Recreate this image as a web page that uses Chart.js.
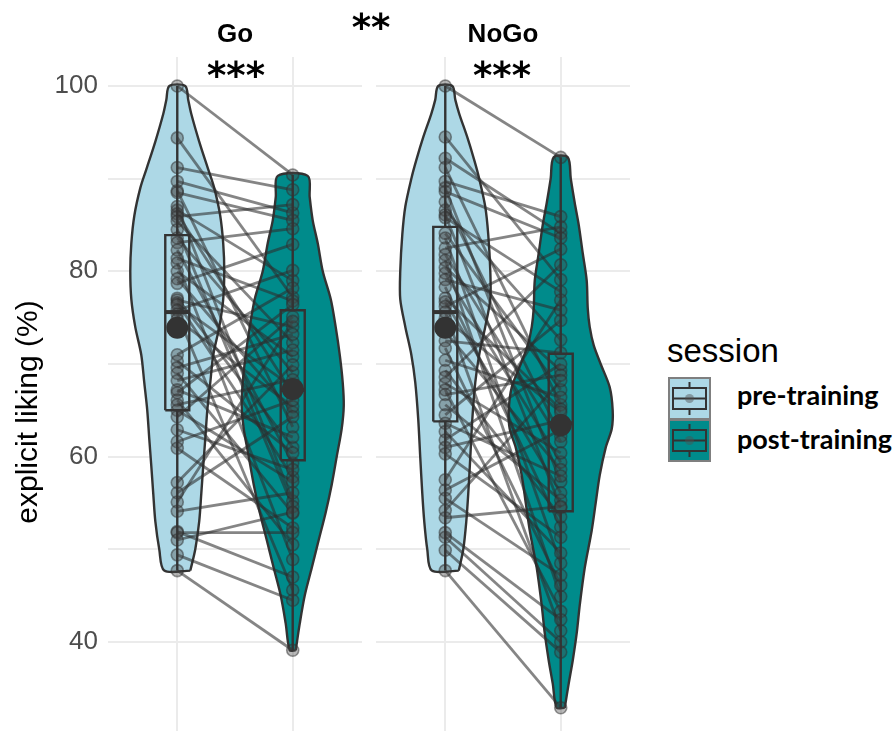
<!DOCTYPE html>
<html><head><meta charset="utf-8">
<script src="https://cdn.jsdelivr.net/npm/chart.js@4.4.1/dist/chart.umd.min.js"></script>
<style>
html,body{margin:0;padding:0;background:#fff;overflow:hidden;}
#wrap{position:relative;width:893px;height:731px;overflow:hidden;background:#fff;}
canvas{position:absolute;top:0;}
.t{position:absolute;white-space:nowrap;line-height:1;}
</style></head><body>
<div id="wrap">
  <canvas id="left" width="370" height="770" style="left:0px"></canvas>
  <canvas id="right" width="270" height="770" style="left:370px"></canvas>
  <canvas id="keys" width="46" height="90" style="left:667px;top:376px"></canvas>
  <div class="t" id="stripGo" style="font-family:'Liberation Sans';font-weight:bold;font-size:26px;left:235px;top:20px;transform:translateX(-50%)"></div>
  <div class="t" id="stripNoGo" style="font-family:'Liberation Sans';font-weight:bold;font-size:26px;left:503px;top:20px;transform:translateX(-50%)"></div>
  <div class="t" id="sigBetween" style="font-family:'DejaVu Sans';font-weight:bold;font-size:37px;left:371px;top:9px;transform:translateX(-50%)"></div>
  <div class="t" id="sigGo" style="font-family:'DejaVu Sans';font-weight:bold;font-size:37px;left:236px;top:57px;transform:translateX(-50%)"></div>
  <div class="t" id="sigNoGo" style="font-family:'DejaVu Sans';font-weight:bold;font-size:37px;left:502px;top:57px;transform:translateX(-50%)"></div>
  <div class="t" id="legTitle" style="font-family:'Liberation Sans';font-size:33px;left:667px;top:334px"></div>
  <div class="t" id="leg0" style="font-family:'Lato';font-weight:bold;font-size:27px;left:737px;top:381px"></div>
  <div class="t" id="leg1" style="font-family:'Lato';font-weight:bold;font-size:27px;left:737px;top:425px"></div>
</div>
<script>
// ---------- data ----------
const facetTitles = ['Go', 'NoGo'];
const sessions = ['pre-training', 'post-training'];
const legendTitle = 'session';
const yTitle = 'explicit liking (%)';
const sigWithin = ['***', '***'];
const sigBetween = '**';
const sessionX = [1, 2];
const yTickValues = [30, 40, 50, 60, 70, 80, 90, 100];
const yTickLabels = ['', '40', '', '60', '', '80', '', '100'];
const yRange = [26.5, 103.13];

// paired participant ratings (same index = same participant)
const goPre = [100, 94.4, 91.2, 89.7, 88.7, 88.5, 87.0, 86.6, 86.2, 85.9, 85.4, 84.5, 83.6, 83.1, 82.3, 81.4, 80.9, 80.0, 79.2, 78.7, 77.1, 76.9, 76.6, 76.4, 75.8, 75.4, 74.8, 71.0, 70.3, 69.6, 69.0, 68.2, 67.2, 66.9, 66.1, 65.6, 65.0, 64.3, 62.9, 61.6, 60.9, 57.2, 56.1, 55.1, 54.1, 51.9, 51.8, 51.0, 49.4, 47.7];
const goPost = [90.4, 77.2, 88.8, 86.3, 63.2, 85.5, 55.2, 79.0, 66.8, 87.2, 72.3, 54.6, 69.1, 84.6, 59.3, 76.8, 48.9, 70.8, 64.8, 82.9, 61.0, 74.0, 57.8, 67.5, 80.1, 45.6, 65.4, 78.2, 60.4, 73.2, 53.9, 71.5, 62.1, 76.4, 50.5, 68.3, 57.3, 75.1, 58.6, 66.1, 52.3, 69.9, 64.3, 74.6, 56.1, 47.0, 51.8, 54.0, 44.5, 39.1];
const noGoPre = [100, 94.5, 92.2, 91.2, 89.7, 89.0, 88.6, 87.5, 86.6, 86.1, 85.8, 84.1, 83.6, 82.5, 81.8, 81.2, 80.4, 79.8, 79.1, 78.3, 77.1, 76.7, 76.2, 75.6, 74.9, 73.5, 72.5, 71.7, 70.4, 69.3, 68.6, 67.9, 67.2, 66.7, 65.6, 64.5, 63.6, 62.7, 61.8, 61.0, 60.3, 57.5, 56.4, 55.5, 54.2, 53.4, 51.8, 51.3, 49.9, 47.7];
const noGoPost = [92.3, 79.1, 84.1, 65.6, 85.9, 57.3, 83.6, 62.2, 72.6, 54.5, 77.8, 67.2, 48.5, 84.8, 61.6, 44.9, 69.3, 59.4, 75.8, 52.4, 65.1, 56.1, 82.4, 41.2, 64.8, 58.6, 71.2, 46.1, 66.4, 53.5, 80.7, 60.4, 43.3, 68.8, 55.3, 74.7, 57.9, 49.6, 70.0, 63.9, 51.3, 76.9, 62.9, 47.2, 68.2, 54.6, 42.4, 40.0, 38.9, 32.9];

const goPreBox = [47.7, 65.0, 75.6, 83.9, 100];
const goPostBox = [39.1, 59.6, 67.2, 75.8, 90.4];
const noGoPreBox = [47.7, 63.8, 75.6, 84.8, 100];
const noGoPostBox = [32.9, 54.1, 63.6, 71.1, 92.3];
// session means (large dots)
const goMeans = [73.9, 67.3];
const noGoMeans = [73.9, 63.4];

// violin outlines: rating levels and half-widths (in category units)
const goPreViolinY = [47.7, 50, 53, 56, 59, 62, 65, 68, 71, 74, 77, 80, 83, 86, 89, 91, 94, 97, 98.5, 100];
const goPreViolinW = [0.113, 0.156, 0.19, 0.208, 0.225, 0.243, 0.26, 0.286, 0.312, 0.364, 0.398, 0.407, 0.398, 0.372, 0.32, 0.268, 0.19, 0.121, 0.095, 0.069];
const goPostViolinY = [39.1, 42, 45, 48, 51, 54, 57, 60, 63, 65.5, 68, 71, 74, 77, 80, 83, 85.5, 88, 90.3];
const goPostViolinW = [0.026, 0.061, 0.104, 0.165, 0.225, 0.286, 0.338, 0.381, 0.424, 0.442, 0.433, 0.407, 0.372, 0.329, 0.26, 0.217, 0.173, 0.147, 0.13];
const noGoPreViolinY = [47.7, 50, 53, 56, 60, 64, 68, 71, 74, 77, 80, 84, 87, 90, 92, 94.5, 97, 98.5, 100];
const noGoPreViolinW = [0.117, 0.156, 0.182, 0.199, 0.217, 0.234, 0.26, 0.294, 0.346, 0.39, 0.39, 0.372, 0.346, 0.294, 0.251, 0.19, 0.121, 0.087, 0.061];
const noGoPostViolinY = [32.9, 35.5, 38, 41, 44, 48, 52, 55, 58, 61, 63, 65, 67.5, 70, 72, 74, 76, 79, 82, 85, 87.4, 90, 92.3];
const noGoPostViolinW = [0.035, 0.069, 0.104, 0.139, 0.165, 0.208, 0.268, 0.303, 0.338, 0.39, 0.442, 0.45, 0.424, 0.346, 0.286, 0.251, 0.234, 0.225, 0.19, 0.156, 0.121, 0.087, 0.061];

// ---------- styles ----------
const sessionFill = ['#ADD8E6', '#008B8B'];
const dark = '#333333';
const gridColor = '#EBEBEB';
const boxHalf = 0.104;

function violinOutline(cx, ys, ws) {
  const pts = [];
  for (let i = 0; i < ys.length; i++) pts.push({x: cx + ws[i], y: ys[i]});
  for (let i = ys.length - 1; i >= 0; i--) pts.push({x: cx - ws[i], y: ys[i]});
  pts.push({x: cx + ws[0], y: ys[0]});
  return pts;
}

function panelDatasets(pre, post, boxes, means, violins) {
  const ds = [];
  violins.forEach((v, k) => {
    ds.push({type: 'line', data: violinOutline(sessionX[k], v[0], v[1]), fill: 'shape',
      backgroundColor: sessionFill[k], borderColor: dark, borderWidth: 2.4, pointRadius: 0,
      tension: 0.3, order: 50});
  });
  pre.forEach((p, i) => {
    ds.push({type: 'line', data: [{x: sessionX[0], y: p}, {x: sessionX[1], y: post[i]}],
      borderColor: 'rgba(45,45,45,0.58)', borderWidth: 2.8, pointRadius: 0, fill: false, order: 40});
  });
  ds.push({type: 'scatter',
    data: pre.map(v => ({x: sessionX[0], y: v})).concat(post.map(v => ({x: sessionX[1], y: v}))),
    pointRadius: 6, backgroundColor: 'rgba(70,70,70,0.38)', borderColor: 'rgba(45,45,45,0.5)',
    borderWidth: 1.6, order: 30});
  boxes.forEach((b, k) => {
    const c = sessionX[k];
    ds.push({type: 'line', data: [
      {x: c, y: b[0]}, {x: c, y: b[1]}, {x: c, y: null},
      {x: c - boxHalf, y: b[1]}, {x: c + boxHalf, y: b[1]}, {x: c + boxHalf, y: b[3]},
      {x: c - boxHalf, y: b[3]}, {x: c - boxHalf, y: b[1]}, {x: c, y: null},
      {x: c, y: b[3]}, {x: c, y: b[4]}],
      borderColor: dark, borderWidth: 2.4, pointRadius: 0, fill: false, spanGaps: false, order: 20});
    ds.push({type: 'line', data: [{x: c - boxHalf, y: b[2]}, {x: c + boxHalf, y: b[2]}],
      borderColor: dark, borderWidth: 4, pointRadius: 0, fill: false, order: 15});
  });
  ds.push({type: 'scatter', data: means.map((m, k) => ({x: sessionX[k], y: m})),
    pointRadius: 11, backgroundColor: dark, borderWidth: 0, order: 10});
  return ds;
}

function chartOptions(showY) {
  return {
    responsive: false, animation: false, events: [],
    layout: {autoPadding: false, padding: {left: showY ? 0 : 6, right: showY ? 8 : 10, top: 57, bottom: 3}},
    plugins: {legend: {display: false}, tooltip: {enabled: false}},
    scales: {
      x: {type: 'linear', min: 0.4, max: 2.6,
        afterBuildTicks: s => { s.ticks = sessionX.map(v => ({value: v})); },
        ticks: {display: false}, grid: {color: gridColor, lineWidth: 2, drawTicks: false},
        border: {display: false},
        afterFit: s => { s.height = 0; s.paddingLeft = 0; s.paddingRight = 0; s.paddingTop = 0; s.paddingBottom = 0; }},
      y: {type: 'linear', min: yRange[0], max: yRange[1],
        afterBuildTicks: s => { s.ticks = yTickValues.map(v => ({value: v})); },
        ticks: {display: showY, callback: (v, i) => yTickLabels[i], color: '#4D4D4D', padding: 10,
          font: {family: 'Liberation Sans', size: 26}},
        grid: {color: gridColor, lineWidth: 2, drawTicks: false},
        border: {display: false},
        title: {display: showY, text: yTitle, color: '#000000', padding: {top: 11, bottom: 0},
          font: {family: 'Liberation Sans', size: 30}},
        afterFit: s => { s.width = showY ? 108 : 0; s.paddingTop = 0; s.paddingBottom = 0; s.paddingLeft = 0; s.paddingRight = 0; }}
    }
  };
}

new Chart(document.getElementById('left'), {
  data: {datasets: panelDatasets(goPre, goPost, [goPreBox, goPostBox], goMeans,
    [[goPreViolinY, goPreViolinW], [goPostViolinY, goPostViolinW]])},
  options: chartOptions(true)
});
new Chart(document.getElementById('right'), {
  data: {datasets: panelDatasets(noGoPre, noGoPost, [noGoPreBox, noGoPostBox], noGoMeans,
    [[noGoPreViolinY, noGoPreViolinW], [noGoPostViolinY, noGoPostViolinW]])},
  options: chartOptions(false)
});

// texts
document.getElementById('stripGo').textContent = facetTitles[0];
document.getElementById('stripNoGo').textContent = facetTitles[1];
document.getElementById('sigBetween').textContent = sigBetween;
document.getElementById('sigGo').textContent = sigWithin[0];
document.getElementById('sigNoGo').textContent = sigWithin[1];
document.getElementById('legTitle').textContent = legendTitle;
document.getElementById('leg0').textContent = sessions[0];
document.getElementById('leg1').textContent = sessions[1];

// legend keys
(function () {
  const ctx = document.getElementById('keys').getContext('2d');
  sessionFill.forEach((col, k) => {
    const x0 = 2, y0 = 2 + k * 42, w = 41, h = 41;
    ctx.fillStyle = col; ctx.fillRect(x0, y0, w, h);
    ctx.strokeStyle = '#7F7F7F'; ctx.lineWidth = 2; ctx.strokeRect(x0, y0, w, h);
    const cx = x0 + w / 2, cy = y0 + h / 2;
    ctx.strokeStyle = dark; ctx.lineWidth = 2;
    ctx.beginPath();
    ctx.moveTo(cx, y0 + 4); ctx.lineTo(cx, y0 + 10);
    ctx.moveTo(cx, y0 + h - 10); ctx.lineTo(cx, y0 + h - 4);
    ctx.rect(x0 + 4, y0 + 10, w - 8, h - 20);
    ctx.moveTo(x0 + 4, cy); ctx.lineTo(x0 + w - 4, cy);
    ctx.stroke();
    ctx.fillStyle = 'rgba(80,80,80,0.45)';
    ctx.beginPath(); ctx.arc(cx, cy, 4.5, 0, Math.PI * 2); ctx.fill();
  });
})();
</script>
</body></html>
